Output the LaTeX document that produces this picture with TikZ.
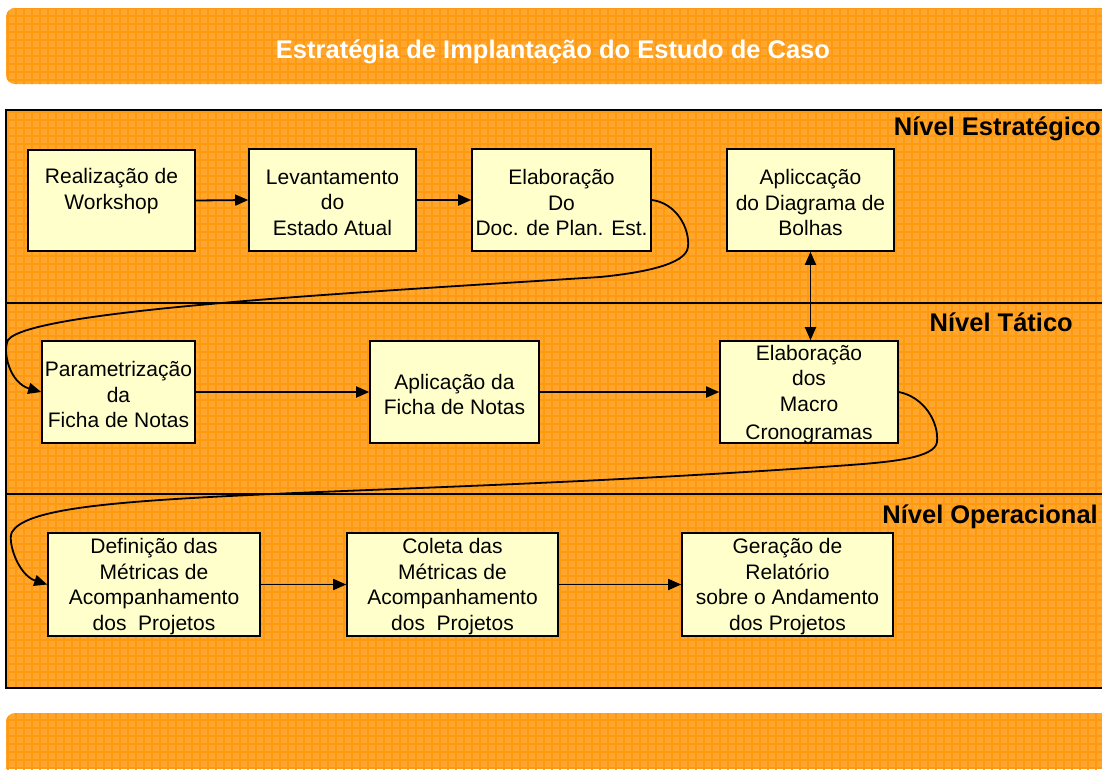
\documentclass[tikz,border=0pt]{standalone}
\usepackage{fontspec}
\setmainfont{Liberation Sans}
\usetikzlibrary{arrows.meta}
\definecolor{orbase}{HTML}{FFA62E}
\definecolor{orgrid}{HTML}{FF9A10}
\definecolor{boxfill}{HTML}{FFFFCC}
\tikzset{
  stepbox/.style={draw=black, line width=1.6pt, fill=boxfill, rectangle, inner sep=0pt},
  boxtext/.style={align=center, inner sep=0pt, font=\fontsize{21}{25.5}\selectfont},
  flow/.style={draw=black, line width=1.8pt, -{Triangle[length=13pt,width=11pt]}},
  levellabel/.style={font=\fontsize{25.5}{30}\selectfont\bfseries, inner sep=0pt},
  orgridlines/.style={draw=orgrid, line width=1.3pt},
}
\begin{document}
\begin{tikzpicture}[x=1pt,y=-1pt]
\useasboundingbox (0,0) rectangle (1102,769);
% top banner
\begin{scope}
\clip[rounded corners=9pt] (6,8) rectangle (1130,84);
\fill[orbase] (0,0) rectangle (1102,100);
\draw[orgridlines] (0,0) grid[step=8pt] (1104,100);
\end{scope}
\node[anchor=base, text=white, font=\fontsize{25.5}{30}\selectfont\bfseries, inner sep=0pt] (title) at (553,58) {Estratégia de Implantação do Estudo de Caso};
% bottom banner
\begin{scope}
\clip[rounded corners=9pt] (6,713) rectangle (1130,800);
\fill[orbase] (0,700) rectangle (1102,769);
\draw[orgridlines] (0,704) grid[step=8pt] (1104,776);
\end{scope}
% main frame
\begin{scope}
\clip (6,110) rectangle (1102,688);
\fill[orbase] (0,100) rectangle (1102,700);
\draw[orgridlines] (0,104) grid[step=8pt] (1104,696);
\end{scope}
\draw[line width=2pt] (1110,110) -- (6,110) -- (6,688) -- (1110,688);
\draw[line width=1.6pt] (6,303) -- (1110,303);
\draw[line width=1.6pt] (6,494) -- (1110,494);
% level labels
\node[levellabel, anchor=base east] (lvE) at (1101,135) {Nível Estratégico};
\node[levellabel, anchor=base east] (lvT) at (1073,331) {Nível Tático};
\node[levellabel, anchor=base east] (lvO) at (1098,523) {Nível Operacional};
% boxes
\node[stepbox, minimum width=167pt, minimum height=101pt] (b1) at (111.5,200.5) {};
\node[stepbox, minimum width=167pt, minimum height=102pt] (b2) at (332.5,200) {};
\node[stepbox, minimum width=179pt, minimum height=102pt] (b3) at (561.5,200) {};
\node[stepbox, minimum width=167pt, minimum height=102pt] (b4) at (810.5,200) {};
\node[stepbox, minimum width=153pt, minimum height=102pt] (b5) at (118.5,392) {};
\node[stepbox, minimum width=169pt, minimum height=102pt] (b6) at (454.5,392) {};
\node[stepbox, minimum width=178pt, minimum height=102pt] (b7) at (809,392) {};
\node[stepbox, minimum width=212pt, minimum height=103pt] (b8) at (154,584.5) {};
\node[stepbox, minimum width=211pt, minimum height=103pt] (b9) at (452.5,584.5) {};
\node[stepbox, minimum width=211pt, minimum height=103pt] (b10) at (787.5,584.5) {};
% box texts
\node[boxtext] (t1) at ([yshift=-1pt]b1.center) {Realização de\\Workshop\\\mbox{}};
\node[boxtext] (t2) at ([yshift=-2.5pt]b2.center) {Levantamento\\do\\Estado Atual};
\node[boxtext] (t3) at ([yshift=-2.5pt]b3.center) {Elaboração\\Do\\Doc. de Plan. Est.};
\node[boxtext] (t4) at ([yshift=-2.5pt]b4.center) {Apliccação\\do Diagrama de\\Bolhas};
\node[boxtext] (t5) at ([yshift=-2.5pt]b5.center) {Parametrização\\da\\Ficha de Notas};
\node[boxtext] (t6) at ([yshift=-2.5pt]b6.center) {Aplicação da\\Ficha de Notas};
\node[boxtext] (t7) at ([yshift=-2.5pt]b7.center) {Elaboração\\dos\\Macro\\[3pt]Cronogramas};
\node[boxtext] (t8) at ([yshift=-2pt]b8.center) {Definição das\\Métricas de\\Acompanhamento\\dos\ \ Projetos};
\node[boxtext] (t9) at ([yshift=-2pt]b9.center) {Coleta das\\Métricas de\\Acompanhamento\\dos\ \ Projetos};
\node[boxtext] (t10) at ([yshift=-2pt]b10.center) {Geração de\\Relatório\\sobre o Andamento\\dos Projetos};
% straight connectors
\draw[flow] (b1.east) -- (b2.west);
\draw[flow] (b2.east) -- (b3.west);
\draw[flow] (b5.east) -- (b6.west);
\draw[flow] (b6.east) -- (b7.west);
\draw[flow] (b8.east) -- (b9.west);
\draw[flow] (b9.east) -- (b10.west);
\draw[flow, {Triangle[length=13pt,width=11pt]}-{Triangle[length=13pt,width=11pt]}] (b4.south) -- (b4.south |- b7.north);
% curved connectors
\draw[flow] (b3.east) .. controls (676,203) and (690,228) .. (688,247)
  .. controls (686,265) and (640,273) .. (600,277)
  .. controls (350,293) and (30,310) .. (8,340)
  .. controls (2,352) and (10,383) .. (b5.west);
\draw[flow] (b7.east) .. controls (924,397) and (939,422) .. (937,442)
  .. controls (935,458) and (890,462) .. (850,465)
  .. controls (600,483) and (400,488) .. (250,495)
  .. controls (100,502) and (25,510) .. (12,532)
  .. controls (7,541) and (18,575) .. (b8.west);
\end{tikzpicture}
\end{document}
